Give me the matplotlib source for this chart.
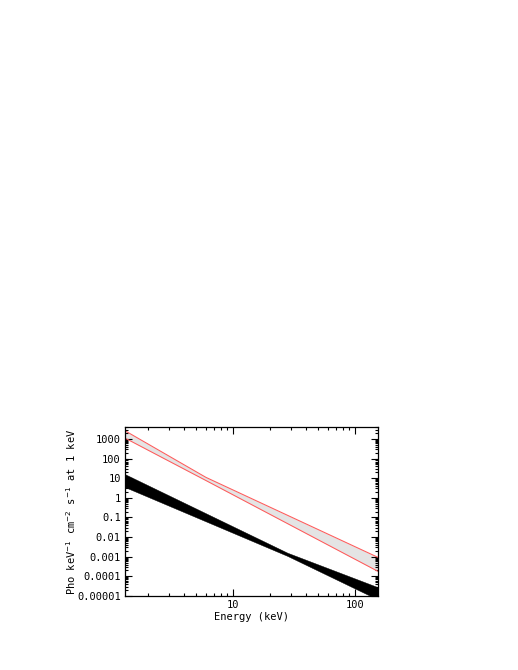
import matplotlib
matplotlib.use("Agg")
import matplotlib.pyplot as plt
from matplotlib.ticker import FixedLocator, FuncFormatter, LogLocator, NullFormatter

# bow-tie envelopes (energy in keV)
red_energy = [1.3, 6.0, 155.0]
red_upper = [2600.0, 11.0, 9.3e-4]
red_lower = [1100.0, 7.6, 1.8e-4]

black_energy = [1.3, 28.0, 155.0]
black_upper = [16.0, 1.6e-3, 2.8e-5]
black_lower = [3.5, 1.1e-3, 6.6e-6]

y_ticks = [1e3, 1e2, 1e1, 1, 0.1, 0.01, 0.001, 0.0001, 0.00001]
y_labels = ["1000", "100", "10", "1", "0.1", "0.01", "0.001", "0.0001", "0.00001"]

FONT = "DejaVu Sans Mono"
FS = 7.5

fig = plt.figure(figsize=(5.18, 6.70), dpi=100)
ax = fig.add_axes([0.2413, 0.1104, 0.4884, 0.2522])

ax.fill_between(red_energy, red_lower, red_upper, color="#e4e4e4", lw=0, zorder=1)
ax.plot(red_energy, red_upper, color="#ff5a5a", lw=0.75, zorder=2)
ax.plot(red_energy, red_lower, color="#ff5a5a", lw=0.75, zorder=2)
ax.fill_between(black_energy, black_lower, black_upper, color="black", lw=0.3, zorder=2)

ax.set_xscale("log")
ax.set_yscale("log")
ax.set_xlim(1.3, 155)
ax.set_ylim(1e-5, 4000)

ax.xaxis.set_major_locator(FixedLocator([10, 100]))
ax.xaxis.set_major_formatter(FuncFormatter(lambda v, p: "%d" % round(v)))
ax.xaxis.set_minor_locator(LogLocator(base=10, subs=range(2, 10), numticks=20))
ax.xaxis.set_minor_formatter(NullFormatter())

ax.yaxis.set_major_locator(FixedLocator(y_ticks))
ax.set_yticklabels(y_labels)
ax.yaxis.set_minor_locator(LogLocator(base=10, subs=range(2, 10), numticks=30))
ax.yaxis.set_minor_formatter(NullFormatter())

ax.tick_params(which="both", direction="in", top=True, right=True, width=0.8, color="black")
ax.tick_params(which="major", length=5, pad=3)
ax.tick_params(which="minor", length=2.5)
for lab in ax.get_xticklabels() + ax.get_yticklabels():
    lab.set_fontfamily(FONT)
    lab.set_fontsize(FS)

for sp in ax.spines.values():
    sp.set_linewidth(0.9)

ax.set_xlabel("Energy (keV)", fontfamily=FONT, fontsize=FS, labelpad=1)
ax.set_ylabel(r"Pho keV$^{-1}$ cm$^{-2}$ s$^{-1}$ at 1 keV", fontfamily=FONT, fontsize=FS, labelpad=-1)

fig.savefig("out.png", dpi=100)
